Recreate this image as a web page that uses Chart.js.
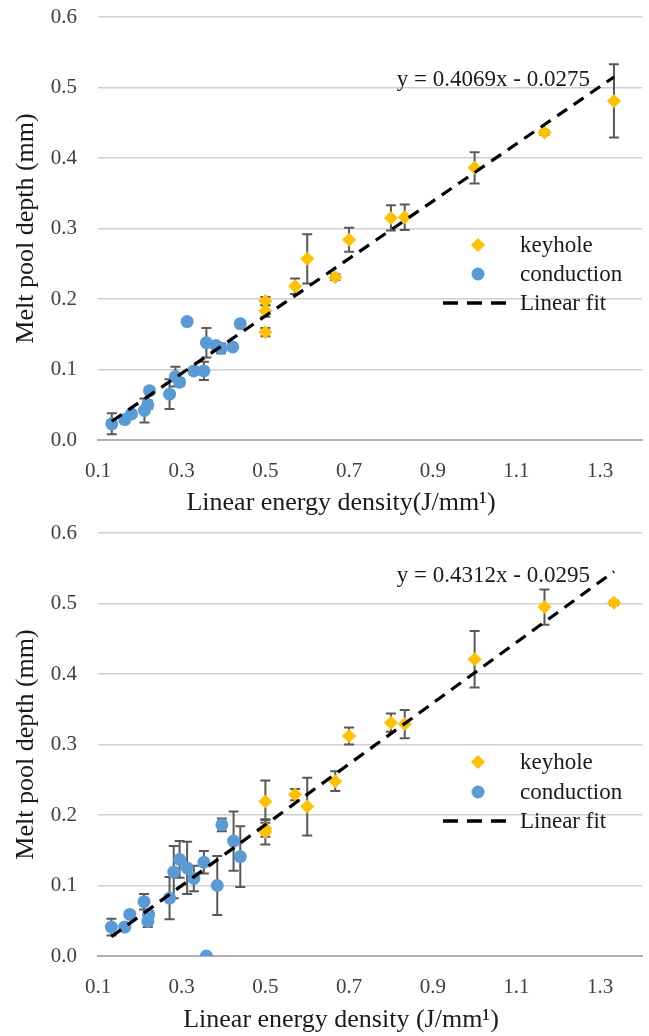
<!DOCTYPE html>
<html><head><meta charset="utf-8">
<script src="https://cdn.jsdelivr.net/npm/chart.js@4.4.1/dist/chart.umd.min.js"></script>
<style>
html,body{margin:0;padding:0;background:#fff;}
.wrap{position:absolute;left:0;width:649px;height:518px;}
</style></head><body>
<div class="wrap" style="top:0"><canvas id="c1" width="649" height="518"></canvas></div>
<div class="wrap" style="top:518px"><canvas id="c2" width="649" height="518"></canvas></div>
<script>
// ---- shared ----
const xTickValues = [0.1, 0.3, 0.5, 0.7, 0.9, 1.1, 1.3];
const yTickValues = [0, 0.1, 0.2, 0.3, 0.4, 0.5, 0.6];
const seriesNames = ['keyhole', 'conduction', 'Linear fit'];

// ---- top panel ----
const topKeyholeX   = [0.5, 0.5, 0.5, 0.571, 0.6, 0.667, 0.7, 0.8, 0.833, 1.0, 1.167, 1.333];
const topKeyholeY   = [0.197, 0.183, 0.153, 0.218, 0.257, 0.231, 0.284, 0.315, 0.316, 0.386, 0.436, 0.481];
const topKeyholeErr = [0.006, 0.008, 0.006, 0.011, 0.035, 0.004, 0.017, 0.018, 0.018, 0.022, 0.003, 0.052];
const topConductionX   = [0.133, 0.164, 0.18, 0.211, 0.219, 0.223, 0.271, 0.285, 0.295, 0.313, 0.329, 0.353, 0.359, 0.382, 0.394, 0.422, 0.44];
const topConductionY   = [0.023, 0.029, 0.037, 0.042, 0.05, 0.07, 0.065, 0.09, 0.082, 0.168, 0.098, 0.098, 0.138, 0.134, 0.13, 0.132, 0.165];
const topConductionErr = [0.015, 0.005, 0.004, 0.017, 0.006, 0.004, 0.021, 0.014, 0.005, 0.003, 0.005, 0.013, 0.021, 0.005, 0.007, 0.004, 0.003];
const topFit = [0.4069, -0.0275];
const topEquation = 'y = 0.4069x - 0.0275';
const topXTitle = 'Linear energy density(J/mm\u00B9)';

// ---- bottom panel ----
const botKeyholeX   = [0.5, 0.5, 0.5, 0.571, 0.6, 0.667, 0.7, 0.8, 0.833, 1.0, 1.167, 1.333];
const botKeyholeY   = [0.219, 0.181, 0.176, 0.229, 0.212, 0.248, 0.312, 0.331, 0.329, 0.421, 0.495, 0.501];
const botKeyholeErr = [0.03, 0.012, 0.018, 0.008, 0.041, 0.014, 0.012, 0.013, 0.02, 0.04, 0.025, 0.003];
const botConductionX   = [0.132, 0.164, 0.176, 0.21, 0.221, 0.219, 0.271, 0.281, 0.295, 0.313, 0.329, 0.353, 0.359, 0.385, 0.396, 0.424, 0.44];
const botConductionY   = [0.041, 0.041, 0.059, 0.077, 0.059, 0.049, 0.082, 0.119, 0.137, 0.125, 0.11, 0.133, 0.0, 0.1, 0.186, 0.163, 0.141];
const botConductionErr = [0.012, 0.005, 0.005, 0.011, 0.005, 0.008, 0.03, 0.037, 0.026, 0.037, 0.018, 0.016, 0, 0.042, 0.009, 0.042, 0.043];
const botFit = [0.4312, -0.0295];
const botEquation = 'y = 0.4312x - 0.0295';
const botXTitle = 'Linear energy density (J/mm\u00B9)';

const ORANGE = '#FFC000';
const BLUE = '#5B9BD5';
const SERIF = '"Liberation Serif", "Times New Roman", serif';

function pts(xs, ys, es) {
  return xs.map((x, i) => ({x: x, y: ys[i], e: es ? es[i] : 0}));
}

function makePanel(id, kx, ky, ke, cx, cy, ce, fit, eqText, xTitle, L) {
  const allX = kx.concat(cx);
  const xmin = Math.min.apply(null, allX), xmax = Math.max.apply(null, allX);
  const fitData = [{x: xmin, y: fit[0] * xmin + fit[1]}, {x: xmax, y: fit[0] * xmax + fit[1]}];

  const panelPlugin = {
    id: 'panel_' + id,
    beforeDatasetsDraw(chart) {
      const ctx = chart.ctx, xs = chart.scales.x, ys = chart.scales.y;
      ctx.save();
      ctx.strokeStyle = '#595959';
      ctx.lineWidth = 2;
      chart.data.datasets.forEach(ds => {
        if (!ds.errorBars) return;
        ds.data.forEach(p => {
          if (!p.e) return;
          const px = xs.getPixelForValue(p.x);
          const y1 = ys.getPixelForValue(p.y + p.e);
          const y2 = ys.getPixelForValue(p.y - p.e);
          ctx.beginPath();
          ctx.moveTo(px, y1); ctx.lineTo(px, y2);
          ctx.moveTo(px - 5, y1); ctx.lineTo(px + 5, y1);
          ctx.moveTo(px - 5, y2); ctx.lineTo(px + 5, y2);
          ctx.stroke();
        });
      });
      ctx.restore();
    },
    afterDatasetsDraw(chart) {
      const ctx = chart.ctx;
      ctx.save();
      // equation
      ctx.fillStyle = '#1a1a1a';
      ctx.font = '23px ' + SERIF;
      ctx.textAlign = 'right';
      ctx.textBaseline = 'middle';
      ctx.fillText(eqText, L.eqX, L.eqY);
      // legend
      const lx = 478, tx = 520;
      ctx.font = '23px ' + SERIF;
      ctx.textAlign = 'left';
      ctx.fillStyle = ORANGE;
      ctx.beginPath();
      ctx.moveTo(lx - 7, L.lg1); ctx.lineTo(lx, L.lg1 - 7); ctx.lineTo(lx + 7, L.lg1); ctx.lineTo(lx, L.lg1 + 7);
      ctx.closePath(); ctx.fill();
      ctx.fillStyle = BLUE;
      ctx.beginPath(); ctx.arc(lx, L.lg2, 6.5, 0, Math.PI * 2); ctx.fill();
      ctx.strokeStyle = '#000'; ctx.lineWidth = 3.5; ctx.setLineDash([15, 9]);
      ctx.beginPath(); ctx.moveTo(443, L.lg3); ctx.lineTo(512, L.lg3); ctx.stroke();
      ctx.setLineDash([]);
      ctx.fillStyle = '#1a1a1a';
      ctx.fillText(seriesNames[0], tx, L.lg1 + 1);
      ctx.fillText(seriesNames[1], tx, L.lg2 + 1);
      ctx.fillText(seriesNames[2], tx, L.lg3 + 1);
      // x title
      ctx.font = '26px ' + SERIF;
      ctx.textAlign = 'center';
      ctx.fillText(xTitle, 341, L.xtY);
      ctx.restore();
    }
  };

  return new Chart(document.getElementById(id), {
    type: 'scatter',
    data: {
      datasets: [
        {label: seriesNames[2], data: fitData, type: 'line', showLine: true, borderColor: '#000', borderWidth: 3.2,
         borderDash: [12, 8], pointRadius: 0, fill: false, order: 0},
        {label: seriesNames[0], data: pts(kx, ky, ke), errorBars: true, pointStyle: 'rectRot', pointRadius: 7,
         backgroundColor: ORANGE, borderColor: ORANGE, borderWidth: 0, order: 1},
        {label: seriesNames[1], data: pts(cx, cy, ce), errorBars: true, pointStyle: 'circle', pointRadius: 6.5,
         backgroundColor: BLUE, borderColor: BLUE, borderWidth: 0, order: 2}
      ]
    },
    options: {
      responsive: false,
      animation: false,
      devicePixelRatio: 1,
      layout: {padding: {top: L.top, right: 5, left: 0, bottom: 0}},
      plugins: {legend: {display: false}, tooltip: {enabled: false}},
      scales: {
        x: {
          type: 'linear', min: 0.1, max: 1.4,
          afterBuildTicks: s => { s.ticks = xTickValues.map(v => ({value: v})); },
          afterFit: s => { s.height = L.xh; },
          ticks: {callback: v => Number(v).toFixed(1), font: {family: SERIF, size: 21}, color: '#404040',
                  padding: 19, maxRotation: 0, autoSkip: false},
          grid: {display: false, drawTicks: false},
          border: {display: true, color: '#b0b0b0', width: 2}
        },
        y: {
          min: 0, max: 0.6,
          afterBuildTicks: s => { s.ticks = yTickValues.map(v => ({value: v})); },
          afterFit: s => { s.width = 98; },
          ticks: {callback: v => Number(v).toFixed(1), font: {family: SERIF, size: 21}, color: '#404040', padding: 0},
          grid: {color: '#cfcfcf', lineWidth: 1.5, drawTicks: true, tickLength: 21, tickColor: 'rgba(0,0,0,0)'},
          border: {display: false},
          title: {display: true, text: 'Melt pool depth (mm)', font: {family: SERIF, size: 26},
                  color: '#1a1a1a', padding: {top: 11, bottom: 0}}
        }
      }
    },
    plugins: [panelPlugin]
  });
}

makePanel('c1', topKeyholeX, topKeyholeY, topKeyholeErr, topConductionX, topConductionY, topConductionErr,
  topFit, topEquation, topXTitle, {top: 17, xh: 78, eqX: 590, eqY: 80, lg1: 245, lg2: 274, lg3: 303, xtY: 503});
makePanel('c2', botKeyholeX, botKeyholeY, botKeyholeErr, botConductionX, botConductionY, botConductionErr,
  botFit, botEquation, botXTitle, {top: 15, xh: 80, eqX: 590, eqY: 58, lg1: 244, lg2: 274, lg3: 303, xtY: 502});
</script>
</body></html>
